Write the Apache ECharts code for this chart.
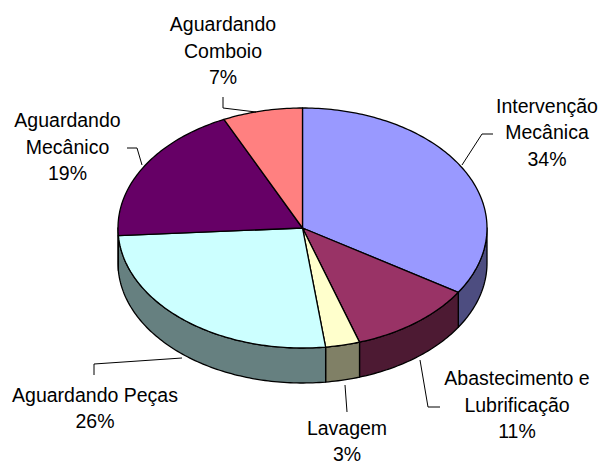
<!DOCTYPE html>
<html>
<head>
<meta charset="utf-8">
<script src="https://cdn.jsdelivr.net/npm/echarts@6/dist/echarts.min.js"></script>
<style>
html,body{margin:0;padding:0;background:#fff;}
#main{width:601px;height:464px;}
</style>
</head>
<body>
<div id="main"></div>
<script>
// ---- data ----
const categories = ['Intervenção Mecânica', 'Abastecimento e Lubrificação', 'Lavagem', 'Aguardando Peças', 'Aguardando Mecânico', 'Aguardando Comboio'];
const labelLines = [['Intervenção', 'Mecânica'], ['Abastecimento e', 'Lubrificação'], ['Lavagem'], ['Aguardando Peças'], ['Aguardando', 'Mecânico'], ['Aguardando', 'Comboio']];
const values = [34, 11, 3, 26, 19, 7];

// ---- styles / layout (not data) ----
const topColors = ['#9999FF', '#993366', '#FFFFCC', '#CCFFFF', '#660066', '#FF8080'];
const sideColors = ['#4D4D80', '#4D1A33', '#808066', '#668080', '#330033', '#804040'];
const labelPos = [[547, 105.5], [517, 378], [347, 427.5], [95, 394.5], [67.5, 120], [223, 24]];
const leaders = [
  [[493, 134], [482, 134], [462, 165]],
  [[440, 407], [428, 407], [420, 360]],
  [[347, 412], [345, 385]],
  [[94, 375], [94, 364], [182, 358]],
  [[127, 148], [137, 148], [142, 165]],
  [[223, 97], [223, 108], [256, 112]]
];
const geo = { cx: 302.5, cy: 228, rx: 184.5, ry: 120, depth: 35 };
const LINE_H = 26.5;
const FONT = '19.5px "Liberation Sans", Arial, sans-serif';

const total = values.reduce((a, b) => a + b, 0);
const cum = [0];
values.forEach(v => cum.push(cum[cum.length - 1] + v));

function pt(t, dy) {
  return [geo.cx + geo.rx * Math.sin(t), geo.cy - geo.ry * Math.cos(t) + dy];
}
function arc(s, e, dy) {
  const pts = [];
  const n = Math.max(2, Math.ceil((e - s) / (Math.PI / 180)));
  for (let k = 0; k <= n; k++) pts.push(pt(s + (e - s) * k / n, dy));
  return pts;
}

function renderItem(params, api) {
  const i = params.dataIndex;
  const v = api.value(0);
  const start = cum[i] / total * Math.PI * 2;
  const end = start + v / total * Math.PI * 2;
  const children = [];
  // side wall (front half only)
  const s = Math.max(start, Math.PI / 2), e = Math.min(end, Math.PI * 1.5);
  if (s < e) {
    const upper = arc(s, e, 0);
    const lower = arc(s, e, geo.depth).reverse();
    children.push({
      type: 'polygon', z2: 1,
      shape: { points: upper.concat(lower) },
      style: { fill: sideColors[i], stroke: '#000', lineWidth: 1.3, lineJoin: 'round' }
    });
  }
  // top face
  children.push({
    type: 'polygon', z2: 5,
    shape: { points: [[geo.cx, geo.cy]].concat(arc(start, end, 0)) },
    style: { fill: topColors[i], stroke: '#000', lineWidth: 1.3, lineJoin: 'round' }
  });
  // leader line
  children.push({
    type: 'polyline', z2: 10,
    shape: { points: leaders[i] },
    style: { stroke: '#000', lineWidth: 1, fill: null }
  });
  // label text
  const lines = labelLines[i].concat([Math.round(v / total * 100) + '%']);
  lines.forEach((ln, k) => {
    children.push({
      type: 'text', z2: 10,
      style: {
        text: ln, x: labelPos[i][0], y: labelPos[i][1] + k * LINE_H,
        textAlign: 'center', textVerticalAlign: 'middle',
        font: FONT, fill: '#000'
      }
    });
  });
  return { type: 'group', children };
}

const chart = echarts.init(document.getElementById('main'), null, { renderer: 'svg' });
chart.setOption({
  animation: false,
  backgroundColor: '#fff',
  series: [{
    type: 'custom',
    coordinateSystem: 'none',
    renderItem: renderItem,
    data: values.map((v, i) => ({ name: categories[i], value: [v] }))
  }]
});
</script>
</body>
</html>
